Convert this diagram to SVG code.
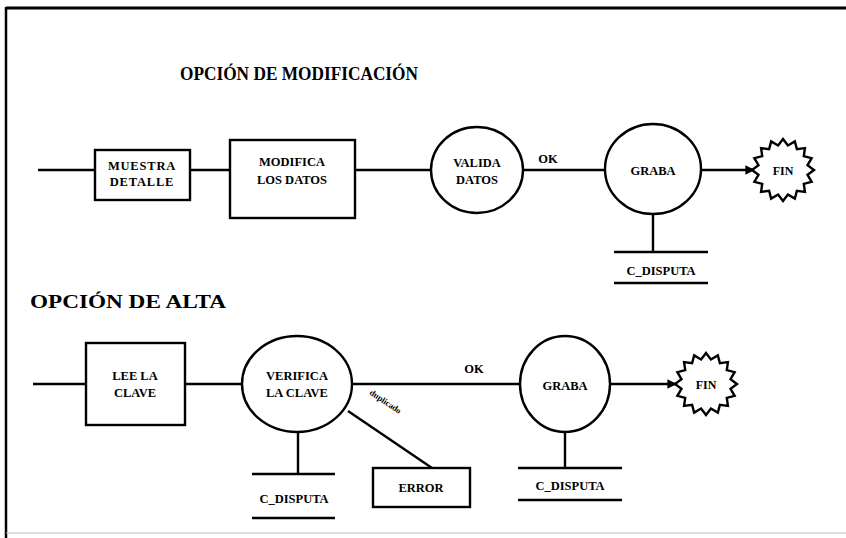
<svg xmlns="http://www.w3.org/2000/svg" xmlns:xlink="http://www.w3.org/1999/xlink" width="846" height="538" viewBox="0 0 846 538">
<style>
.t{font-family:"Liberation Serif","Times New Roman",serif;font-weight:bold;fill:#000;text-anchor:middle}
.n{font-size:12.5px}
.h{font-size:19px;text-anchor:start}
.s{fill:#fff;stroke:#000;stroke-width:2.4}
.c{stroke:#000;stroke-width:2.4;fill:none}
</style>
<defs>
<polygon id="star" points="31,0 24.52,4.88 28.64,11.86 20.79,13.89 21.92,21.92 13.89,20.79 11.86,28.64 4.88,24.52 0,31 -4.88,24.52 -11.86,28.64 -13.89,20.79 -21.92,21.92 -20.79,13.89 -28.64,11.86 -24.52,4.88 -31,0 -24.52,-4.88 -28.64,-11.86 -20.79,-13.89 -21.92,-21.92 -13.89,-20.79 -11.86,-28.64 -4.88,-24.52 0,-31 4.88,-24.52 11.86,-28.64 13.89,-20.79 21.92,-21.92 20.79,-13.89 28.64,-11.86 24.52,-4.88" fill="#fff" stroke="#000" stroke-width="2.4"/>
<marker id="ar" viewBox="0 0 10 10" refX="9" refY="5" markerWidth="4" markerHeight="4" orient="auto"><path d="M0,0 L10,5 L0,10 z" fill="#000"/></marker>
</defs>
<rect width="846" height="538" fill="#fff"/>
<g id="frame">
<line x1="6" y1="8" x2="846" y2="8" stroke="#000" stroke-width="3"/>
<line x1="6" y1="7" x2="6" y2="538" stroke="#000" stroke-width="2.5"/>
<line x1="6" y1="533" x2="846" y2="533" stroke="#bbb" stroke-width="1"/>
</g>
<text class="t h" x="180" y="80" textLength="238" lengthAdjust="spacingAndGlyphs">OPCIÓN DE MODIFICACIÓN</text>
<text class="t h" x="30" y="308" font-size="20" textLength="196" lengthAdjust="spacingAndGlyphs">OPCIÓN DE ALTA</text>
<g id="connectors">
<line class="c" x1="38" y1="170" x2="95" y2="170"/>
<line class="c" x1="190" y1="170" x2="230" y2="170"/>
<line class="c" x1="355" y1="170" x2="431" y2="170"/>
<line class="c" x1="523" y1="170" x2="605" y2="170"/>
<line class="c" x1="701" y1="170" x2="754" y2="170" marker-end="url(#ar)"/>
<line class="c" x1="653" y1="214" x2="653" y2="252"/>
<line class="c" x1="33" y1="384" x2="86" y2="384"/>
<line class="c" x1="185" y1="384" x2="242" y2="384"/>
<line class="c" x1="352" y1="384" x2="520" y2="384"/>
<line class="c" x1="610" y1="384" x2="676" y2="384" marker-end="url(#ar)"/>
<line class="c" x1="298" y1="431" x2="298" y2="474"/>
<line class="c" x1="565" y1="431" x2="565" y2="468"/>
<line class="c" x1="348" y1="411" x2="432" y2="468"/>
<text class="t" font-size="12.5" x="548" y="163">OK</text>
<text class="t" font-size="12.5" x="474" y="373">OK</text>
<text class="t" font-size="8.5" transform="translate(384,404) rotate(34)">duplicado</text>
</g>
<g id="muestra"><rect class="s" x="95" y="150" width="95" height="50"/><text class="t n" x="142" y="170" letter-spacing="0.8">MUESTRA</text><text class="t n" x="142" y="186" letter-spacing="0.8">DETALLE</text></g>
<g id="modifica"><rect class="s" x="230" y="140" width="125" height="78"/><text class="t n" x="292" y="166">MODIFICA</text><text class="t n" x="292" y="184">LOS DATOS</text></g>
<g id="valida"><ellipse class="s" cx="477" cy="170" rx="46" ry="43"/><text class="t n" x="477" y="167">VALIDA</text><text class="t n" x="477" y="184">DATOS</text></g>
<g id="graba1"><ellipse class="s" cx="653" cy="169" rx="48" ry="45"/><text class="t n" x="653" y="175">GRABA</text></g>
<g id="fin1"><use xlink:href="#star" x="783" y="170"/><text class="t" font-size="12" x="783" y="175">FIN</text></g>
<g id="store1"><line class="c" x1="614" y1="252" x2="708" y2="252"/><text class="t n" x="661" y="275">C_DISPUTA</text><line class="c" x1="614" y1="283" x2="708" y2="283"/></g>
<g id="lee"><rect class="s" x="86" y="343" width="99" height="82"/><text class="t n" x="135" y="380">LEE LA</text><text class="t n" x="135" y="397">CLAVE</text></g>
<g id="verifica"><ellipse class="s" cx="297" cy="384" rx="55" ry="48"/><text class="t n" x="297" y="380">VERIFICA</text><text class="t n" x="297" y="397">LA CLAVE</text></g>
<g id="graba2"><ellipse class="s" cx="565" cy="384" rx="45" ry="48"/><text class="t n" x="565" y="390">GRABA</text></g>
<g id="fin2"><use xlink:href="#star" x="706" y="384"/><text class="t" font-size="12" x="706" y="389">FIN</text></g>
<g id="error"><rect class="s" x="373" y="468" width="97" height="39"/><text class="t n" x="421" y="492">ERROR</text></g>
<g id="store2"><line class="c" x1="252" y1="474" x2="335" y2="474"/><text class="t n" x="294" y="503">C_DISPUTA</text><line class="c" x1="252" y1="518" x2="335" y2="518"/></g>
<g id="store3"><line class="c" x1="518" y1="468" x2="622" y2="468"/><text class="t n" x="570" y="490">C_DISPUTA</text><line class="c" x1="518" y1="500" x2="622" y2="500"/></g>
</svg>
